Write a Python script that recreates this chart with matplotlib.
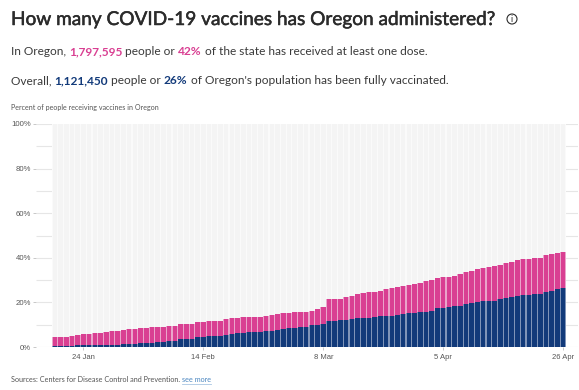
import matplotlib
matplotlib.use("Agg")
import matplotlib.pyplot as plt
import matplotlib.patheffects as pe
from matplotlib.patches import Circle

W, H = 579, 390

# percent of people, one bar per reported day
one_dose = [4.6, 4.6, 4.6, 5.1, 5.5, 5.7, 6.0, 6.3, 6.5, 6.7,
            7.0, 7.3, 7.5, 8.0, 8.0, 8.3, 8.5, 8.8, 8.8, 9.0,
            9.4, 9.6, 10.2, 10.2, 10.2, 11.1, 11.1, 11.5, 11.5, 11.5,
            12.6, 12.9, 13.0, 13.5, 13.5, 13.5, 13.5, 13.8, 14.5, 14.8,
            15.1, 15.4, 15.8, 15.8, 15.8, 16.3, 17.0, 18.1, 21.4, 21.4,
            21.7, 22.6, 23.0, 23.8, 24.4, 24.5, 24.8, 25.3, 26.0, 26.6,
            27.1, 27.4, 27.7, 28.4, 28.8, 29.4, 30.2, 30.8, 31.2, 31.4,
            32.0, 32.6, 33.5, 34.1, 34.8, 35.4, 36.0, 36.3, 36.9, 37.5,
            38.3, 38.9, 39.3, 39.6, 39.9, 39.9, 41.3, 41.7, 42.3, 42.6]
fully = [0.4, 0.4, 0.5, 0.6, 0.7, 0.7, 0.8, 0.9, 0.9, 1.0,
         1.0, 1.1, 1.3, 1.3, 1.5, 1.7, 1.8, 2.0, 2.2, 2.3,
         2.5, 2.8, 3.6, 3.7, 3.7, 4.3, 4.6, 4.9, 4.9, 4.9,
         5.4, 6.0, 6.1, 6.4, 6.7, 6.7, 6.9, 7.2, 7.3, 7.8,
         8.1, 8.4, 8.5, 8.8, 9.0, 9.7, 10.0, 10.3, 11.8, 11.8,
         12.0, 12.3, 12.7, 13.0, 13.2, 13.2, 13.5, 13.8, 13.8, 14.1,
         14.5, 14.8, 15.1, 15.4, 15.5, 15.8, 16.1, 17.5, 17.6, 17.9,
         18.2, 18.5, 19.1, 19.7, 20.3, 20.5, 20.8, 20.8, 21.5, 22.1,
         22.4, 23.0, 23.2, 23.5, 23.6, 23.8, 24.7, 25.3, 26.0, 26.6]
tick_idx = [5, 26, 47, 68, 89]
tick_labels = ["24 Jan", "14 Feb", "8 Mar", "5 Apr", "26 Apr"]
y_ticks = [0, 20, 40, 60, 80, 100]

PINK = "#d93f92"
BLUE = "#123a7a"
DARK = "#2b2b2b"
SANS = "Lato"

fig = plt.figure(figsize=(W / 100, H / 100), dpi=100, facecolor="white")

# axes run from the start of the grid lines to the right edge of them
left, right, top, bottom = 36, 578, 124, 347
ax = fig.add_axes([left / W, 1 - bottom / H, (right - left) / W, (bottom - top) / H])
pitch = 5.71
first_center = 54.9
ax.set_xlim((left - first_center) / pitch, (right - first_center) / pitch)
ax.set_ylim(0, 100)

x = list(range(len(one_dose)))
ax.hlines(range(0, 101, 10), *ax.get_xlim(), color="#e6e6e6", lw=0.8, zorder=1)
# wide pale bars under the solid ones keep the gaps soft, as in the original
ax.bar(x, [100] * len(x), width=1.0, color="#fafafa", zorder=2)
ax.bar(x, [100] * len(x), width=0.8, color="#f4f4f4", zorder=2.5)
ax.bar(x, one_dose, width=1.0, color="#eaa5cb", zorder=3)
ax.bar(x, one_dose, width=0.8, color=PINK, zorder=3.5)
ax.bar(x, fully, width=1.0, color="#7f94b8", zorder=4)
ax.bar(x, fully, width=0.8, color=BLUE, zorder=4.5)

for s in ax.spines.values():
    s.set_visible(False)
ax.patch.set_alpha(0)
ax.set_yticks(y_ticks)
ax.set_yticklabels([f"{v}%" for v in y_ticks])
ax.set_xticks(tick_idx)
ax.set_xticklabels(tick_labels)
ax.tick_params(axis="y", length=2.2, width=0.7, color="#c8c8c8", pad=1.5,
               labelsize=5.6, labelcolor="#555555")
ax.tick_params(axis="x", length=2.2, width=0.7, color="#c8c8c8", pad=3,
               labelsize=5.5, labelcolor="#555555")
for lab in ax.get_xticklabels() + ax.get_yticklabels():
    lab.set_family("Liberation Sans")


def put_text(px, py, parts, size, weight="normal"):
    # write coloured pieces one after the other on a baseline, in pixels
    renderer = fig.canvas.get_renderer()
    t = None
    for txt, color, w in parts:
        t = fig.text(px / W, 1 - py / H, txt, color=color, fontsize=size,
                     family=SANS, fontweight=w or weight, va="baseline")
        px = t.get_window_extent(renderer).x1
    return px, t


_, title = put_text(11, 25, [("How many COVID-19 vaccines has Oregon administered?", DARK, None)], 13.7)
title.set_path_effects([pe.withStroke(linewidth=0.35, foreground=DARK)])
put_text(11, 55, [("In Oregon, ", "#3a3a3a", None), ("1,797,595", PINK, "bold"),
                  (" people or ", "#3a3a3a", None), ("42%", PINK, "bold"),
                  (" of the state has received at least one dose.", "#3a3a3a", None)], 8.6)
put_text(11, 84, [("Overall, ", "#3a3a3a", None), ("1,121,450", BLUE, "bold"),
                  (" people or ", "#3a3a3a", None), ("26%", BLUE, "bold"),
                  (" of Oregon's population has been fully vaccinated.", "#3a3a3a", None)], 8.6)
put_text(11, 110, [("Percent of people receiving vaccines in Oregon", "#555555", None)], 5.1)
end, _ = put_text(11, 382, [("Sources: Centers for Disease Control and Prevention. ", "#555555", None)], 5.25)
link_end, _ = put_text(end, 382, [("see more", "#4a86c0", None)], 5.25)
fig.add_artist(plt.Line2D([end / W, link_end / W], [1 - 384 / H] * 2, color="#a9c6e3", lw=0.6))

# info icon next to the title
fig.add_artist(Circle((512, H - 19), 5, transform=None, fill=False, ec=DARK, lw=0.8))
fig.text(512 / W, 1 - 19 / H, "i", fontsize=6.5, family=SANS, color=DARK, ha="center", va="center")

fig.savefig("out.png", dpi=100)
